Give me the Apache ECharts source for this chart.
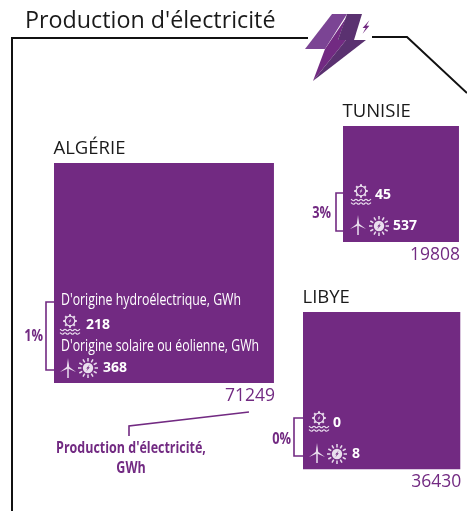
<!DOCTYPE html>
<html>
<head>
<meta charset="utf-8">
<title>Production d'électricité</title>
<style>
  html, body { margin: 0; padding: 0; background: #fff; }
  #chart { width: 467px; height: 511px; }
</style>
<script src="https://cdn.jsdelivr.net/npm/echarts@6/dist/echarts.min.js"></script>
</head>
<body>
<div id="chart"></div>
<script>
const countries = ['ALGÉRIE', 'TUNISIE', 'LIBYE'];
const production = [71249, 19808, 36430];
const hydro = [218, 45, 0];
const solarWind = [368, 537, 8];
const shares = ['1%', '3%', '0%'];

const purple = '#722a82';
const iconColor = '#eadfee';
const sans = '"Open Sans", sans-serif';

// px of side per sqrt(GWh), squares are proportional in area
const sideScale = 0.824;
const squareAnchors = [[54, 163], [343, 126], [303, 312]];

// layout of the annotations inside each square
const layouts = [
  { bracket: [46, 302, 370, 54], share: [43, 336], gear: [70, 321], num1: [86, 325], turbine: [68, 367], sun: [88, 368], num2: [103, 368] },
  { bracket: [336, 193, 231, 343], share: [331, 213], gear: [361, 191], num1: [375, 195], turbine: [358, 224], sun: [379, 226], num2: [393, 226] },
  { bracket: [294, 418, 456, 303], share: [291, 439], gear: [319, 418], num1: [333, 423], turbine: [317, 452], sun: [337, 454], num2: [352, 454] },
];

// squeeze lets Open Sans stand in for the condensed face of the original
function label(text, x, y, font, fill, align, squeeze) {
  return {
    type: 'text',
    silent: true,
    z: 20,
    x,
    y,
    scaleX: squeeze || 1,
    style: { text, x: 0, y: 0, font, fill: fill || '#1a1a1a', textAlign: align || 'left', textVerticalAlign: 'middle' },
  };
}

function line(points, stroke, width) {
  return {
    type: 'polyline',
    silent: true,
    z: 20,
    shape: { points },
    style: { stroke, lineWidth: width, fill: null },
  };
}

function poly(points, fill) {
  return { type: 'polygon', silent: true, z: 15, shape: { points }, style: { fill } };
}

function bolt(x, y, s, fill) {
  return poly([[x + s, y - 2 * s], [x - s, y + 0.3 * s], [x - 0.1 * s, y + 0.3 * s], [x - s, y + 2 * s], [x + s, y - 0.4 * s], [x + 0.1 * s, y - 0.4 * s]], fill);
}

function rays(x, y, r1, r2, count, width) {
  const out = [];
  for (let i = 0; i < count; i++) {
    const a = (i / count) * Math.PI * 2;
    out.push(line([[x + Math.cos(a) * r1, y + Math.sin(a) * r1], [x + Math.cos(a) * r2, y + Math.sin(a) * r2]], iconColor, width));
  }
  return out;
}

function wave(x, y, w) {
  const pts = [];
  for (let i = 0; i <= 8; i++) pts.push([x + (i * w) / 8, y + (i % 2 ? 1 : -1) * 0.8]);
  return { type: 'polyline', silent: true, z: 20, shape: { points: pts, smooth: 0.4 }, style: { stroke: iconColor, lineWidth: 1.1, fill: null } };
}

function hydroIcon(x, y) {
  return [
    { type: 'circle', silent: true, shape: { cx: x, cy: y, r: 4.8 }, style: { stroke: iconColor, lineWidth: 1.3, fill: null } },
    bolt(x, y, 1.4, iconColor),
    ...rays(x, y, 4.8, 6.8, 8, 2),
    wave(x - 10, y + 9, 20),
    wave(x - 10, y + 12.5, 20),
  ].map((el) => ({ ...el, z: 20 }));
}

function turbineIcon(x, y) {
  return [
    line([[x, y], [x, y + 11]], iconColor, 1.5),
    poly([[x, y - 9], [x + 1.2, y], [x - 1.2, y]], iconColor),
    poly([[x - 8, y + 5], [x, y - 1], [x, y + 1.4]], iconColor),
    poly([[x + 8, y + 5], [x, y - 1], [x, y + 1.4]], iconColor),
  ].map((el) => ({ ...el, z: 20 }));
}

function sunIcon(x, y) {
  return [
    { type: 'circle', silent: true, shape: { cx: x, cy: y, r: 5.2 }, style: { fill: iconColor } },
    { ...bolt(x, y, 1.8, purple), z: 21 },
    ...rays(x, y, 6.6, 10, 12, 1.5),
  ].map((el) => ({ z: 20, ...el }));
}

const elements = [
  label("Production d'électricité", 25, 21, '23.3px ' + sans),
  // frame, interrupted by the lightning
  line([[12, 511], [12, 38], [308, 38]], '#111', 2),
  line([[372, 37], [407, 37], [467, 93]], '#111', 2),
  // lightning
  poly([[332, 14], [347, 14], [325, 49], [305, 49]], '#7b4494'),
  poly([[346, 18], [338, 40], [346, 40], [313, 81], [325, 49]], '#722a82'),
  poly([[347, 14], [362, 14], [354, 40], [338, 40]], '#5a3170'),
  poly([[346, 40], [366, 40], [313, 81]], '#5a3170'),
  bolt(366, 27, 3.4, purple),
  // leader to the square value
  line([[249, 412], [129, 426], [129, 436]], purple, 1.6),
  label("Production d'électricité,", 131, 448, 'bold 16px ' + sans, purple, 'center', 0.78),
  label('GWh', 131, 468, 'bold 16px ' + sans, purple, 'center', 0.78),
  label("D'origine hydroélectrique, GWh", 61, 300, '16px ' + sans, '#fff', 'left', 0.77),
  label("D'origine solaire ou éolienne, GWh", 61, 346, '16px ' + sans, '#fff', 'left', 0.77),
];

layouts.forEach((l, i) => {
  const [bx, top, bottom, end] = l.bracket;
  elements.push(line([[end, top], [bx, top], [bx, bottom], [end, bottom]], purple, 1.6));
  elements.push(label(shares[i], l.share[0], l.share[1], 'bold 16px ' + sans, purple, 'right', 0.8));
  elements.push(...hydroIcon(l.gear[0], l.gear[1]));
  elements.push(...turbineIcon(l.turbine[0], l.turbine[1]));
  elements.push(...sunIcon(l.sun[0], l.sun[1]));
  elements.push(label(String(hydro[i]), l.num1[0], l.num1[1], 'bold 14px ' + sans, '#fff'));
  elements.push(label(String(solarWind[i]), l.num2[0], l.num2[1], 'bold 14px ' + sans, '#fff'));
});

const chart = echarts.init(document.getElementById('chart'), null, { renderer: 'canvas' });

chart.setOption({
  animation: false,
  backgroundColor: '#fff',
  grid: { left: 0, right: 0, top: 0, bottom: 0 },
  xAxis: { type: 'value', min: 0, max: 467, show: false },
  yAxis: { type: 'value', min: 0, max: 511, inverse: true, show: false },
  graphic: { elements },
  series: [
    {
      type: 'custom',
      coordinateSystem: 'cartesian2d',
      silent: true,
      data: production.map((v, i) => [squareAnchors[i][0], squareAnchors[i][1], v, countries[i]]),
      encode: { x: 0, y: 1 },
      renderItem: (params, api) => {
        const [x, y] = api.coord([api.value(0), api.value(1)]);
        const value = api.value(2);
        const side = Math.sqrt(value) * sideScale;
        const [w, h] = api.size([side, side]);
        return {
          type: 'group',
          children: [
            { type: 'rect', shape: { x, y, width: w, height: h }, style: { fill: purple } },
            {
              type: 'text',
              style: {
                text: countries[params.dataIndex],
                x: x - 0.5,
                y: y - 14,
                font: '18.5px ' + sans,
                fill: '#1a1a1a',
                textVerticalAlign: 'middle',
              },
            },
            {
              type: 'text',
              style: {
                text: String(value),
                x: x + w + 1,
                y: y + h + 13,
                font: '17.5px ' + sans,
                fill: purple,
                textAlign: 'right',
                textVerticalAlign: 'middle',
              },
            },
          ],
        };
      },
    },
  ],
});
</script>
</body>
</html>
